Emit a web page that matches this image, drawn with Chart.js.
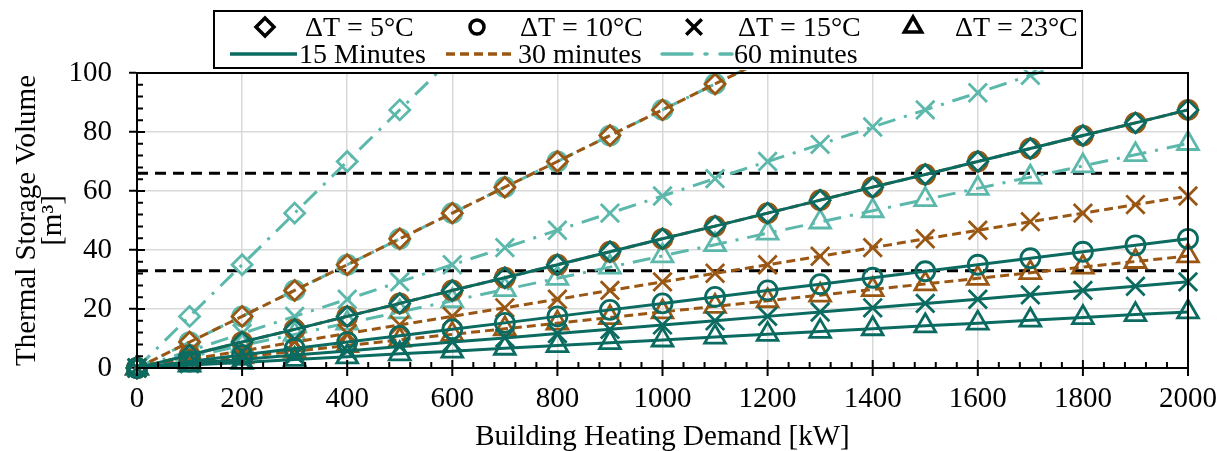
<!DOCTYPE html>
<html>
<head>
<meta charset="utf-8">
<script src="https://cdn.jsdelivr.net/npm/chart.js@4.4.1/dist/chart.umd.min.js"></script>
<style>
  html, body { margin: 0; padding: 0; background: #fff; }
  #wrap { width: 1225px; height: 451px; }
</style>
</head>
<body>
<div id="wrap"><canvas id="storage" width="1225" height="451"></canvas></div>
<script>
// building heating demand [kW]
var demand = [0, 100, 200, 300, 400, 500, 600, 700, 800, 900, 1000, 1100, 1200, 1300, 1400, 1500, 1600, 1700, 1800, 1900, 2000];

// storage volume [m3], 15 minutes
var v15_dT5  = [0, 4.4, 8.8, 13.1, 17.5, 21.9, 26.3, 30.6, 35.0, 39.4, 43.8, 48.1, 52.5, 56.9, 61.3, 65.6, 70.0, 74.4, 78.8, 83.1, 87.5];
var v15_dT10 = [0, 2.2, 4.4, 6.6, 8.8, 10.9, 13.1, 15.3, 17.5, 19.7, 21.9, 24.1, 26.3, 28.4, 30.6, 32.8, 35.0, 37.2, 39.4, 41.6, 43.8];
var v15_dT15 = [0, 1.5, 2.9, 4.4, 5.8, 7.3, 8.8, 10.2, 11.7, 13.1, 14.6, 16.0, 17.5, 19.0, 20.4, 21.9, 23.3, 24.8, 26.3, 27.7, 29.2];
var v15_dT23 = [0, 1.0, 1.9, 2.9, 3.8, 4.8, 5.7, 6.7, 7.6, 8.6, 9.5, 10.5, 11.4, 12.4, 13.3, 14.3, 15.2, 16.2, 17.1, 18.1, 19.0];

// 30 minutes
var v30_dT5  = [0, 8.8, 17.5, 26.3, 35.0, 43.8, 52.5, 61.3, 70.0, 78.8, 87.5, 96.3, 105.0, 113.8, 122.5, 131.3, 140.0, 148.8, 157.5, 166.3, 175.0];
var v30_dT10 = [0, 4.4, 8.8, 13.1, 17.5, 21.9, 26.3, 30.6, 35.0, 39.4, 43.8, 48.1, 52.5, 56.9, 61.3, 65.6, 70.0, 74.4, 78.8, 83.1, 87.5];
var v30_dT15 = [0, 2.9, 5.8, 8.8, 11.7, 14.6, 17.5, 20.4, 23.3, 26.3, 29.2, 32.1, 35.0, 37.9, 40.8, 43.8, 46.7, 49.6, 52.5, 55.4, 58.3];
var v30_dT23 = [0, 1.9, 3.8, 5.7, 7.6, 9.5, 11.4, 13.3, 15.2, 17.1, 19.0, 20.9, 22.8, 24.7, 26.6, 28.5, 30.4, 32.3, 34.2, 36.1, 38.0];

// 60 minutes
var v60_dT5  = [0, 17.5, 35.0, 52.5, 70.0, 87.5, 105.0, 122.5, 140.0, 157.5, 175.0, 192.5, 210.0, 227.5, 245.0, 262.5, 280.0, 297.5, 315.0, 332.5, 350.0];
var v60_dT10 = [0, 8.8, 17.5, 26.3, 35.0, 43.8, 52.5, 61.3, 70.0, 78.8, 87.5, 96.3, 105.0, 113.8, 122.5, 131.3, 140.0, 148.8, 157.5, 166.3, 175.0];
var v60_dT15 = [0, 5.8, 11.7, 17.5, 23.3, 29.2, 35.0, 40.8, 46.7, 52.5, 58.3, 64.2, 70.0, 75.8, 81.7, 87.5, 93.3, 99.2, 105.0, 110.8, 116.7];
var v60_dT23 = [0, 3.8, 7.6, 11.4, 15.2, 19.0, 22.8, 26.6, 30.4, 34.2, 38.0, 41.8, 45.7, 49.5, 53.3, 57.1, 60.9, 64.7, 68.5, 72.3, 76.1];

// horizontal reference levels [m3]
var refLevels = [66, 33];

var dTLabels  = ["ΔT = 5°C", "ΔT = 10°C", "ΔT = 15°C", "ΔT = 23°C"];
var durLabels = ["15 Minutes", "30 minutes", "60 minutes"];

var markers = ["rectRot", "circle", "crossRot", "triangle"];
var markerSize = [10, 9.5, 13, 12];
var durColors = ["#0B6B61", "#9A5714", "#5DB8AC"];
var durDash = [[], [9, 5], [18, 9, 3, 9]];

var series = [
  [v15_dT5, v15_dT10, v15_dT15, v15_dT23],
  [v30_dT5, v30_dT10, v30_dT15, v30_dT23],
  [v60_dT5, v60_dT10, v60_dT15, v60_dT23]
];

function pts(vals) {
  return vals.map(function (v, i) { return {x: demand[i], y: v}; });
}

var datasets = [];
for (var d = 0; d < 3; d++) {
  for (var k = 0; k < 4; k++) {
    datasets.push({
      label: durLabels[d] + " " + dTLabels[k],
      data: pts(series[d][k]),
      borderColor: durColors[d],
      borderWidth: 3,
      borderDash: durDash[d],
      pointStyle: markers[k],
      pointRadius: markerSize[k],
      pointBorderWidth: 2.8,
      pointBorderColor: durColors[d],
      pointBackgroundColor: "rgba(0,0,0,0)",
      fill: false,
      tension: 0,
      clip: {left: 20, bottom: 20, right: 20, top: 3}
    });
  }
}
refLevels.forEach(function (lvl) {
  datasets.push({
    label: "ref " + lvl,
    data: [{x: demand[0], y: lvl}, {x: demand[demand.length - 1], y: lvl}],
    borderColor: "#000",
    borderWidth: 3,
    borderDash: [11, 7],
    pointRadius: 0,
    fill: false
  });
});

var serif = '"Liberation Serif", "Times New Roman", serif';

// ticks on the x axis, minor ticks, frame and the two-row legend
var extras = {
  id: "extras",
  afterDraw: function (chart) {
    var ctx = chart.ctx, a = chart.chartArea;
    var xs = chart.scales.x, ys = chart.scales.y;
    ctx.save();
    ctx.strokeStyle = "#000";
    ctx.lineWidth = 2;
    ctx.beginPath();
    for (var v = 0; v <= 2000; v += 40) {
      var px = xs.getPixelForValue(v);
      if (v % 200 === 0) {
        ctx.moveTo(px, a.bottom + 8);
        ctx.lineTo(px, a.bottom - 8);
      } else {
        ctx.moveTo(px, a.bottom);
        ctx.lineTo(px, a.bottom - 6);
      }
    }
    for (var w = 0; w <= 100; w += 4) {
      var py = ys.getPixelForValue(w);
      var len2 = w % 20 === 0 ? 8 : 6;
      ctx.moveTo(a.left, py);
      ctx.lineTo(a.left + len2, py);
    }
    ctx.stroke();
    ctx.strokeRect(a.left, a.top, a.right - a.left, a.bottom - a.top);

    // legend box
    ctx.fillStyle = "#fff";
    ctx.fillRect(214, 11, 868, 57);
    ctx.lineWidth = 2;
    ctx.strokeRect(214, 11, 868, 57);

    ctx.font = "28px " + serif;
    ctx.textBaseline = "alphabetic";
    ctx.textAlign = "left";

    var mx = [265, 477, 694, 913];
    var tx = [305, 520, 738, 955];
    var legSize = [9, 7, 11, 10];
    for (var i = 0; i < 4; i++) {
      ctx.strokeStyle = "#000";
      ctx.fillStyle = "rgba(0,0,0,0)";
      ctx.lineWidth = 3.5;
      ctx.setLineDash([]);
      Chart.helpers.drawPoint(ctx, {pointStyle: markers[i], radius: legSize[i], borderWidth: 3.5, rotation: 0}, mx[i], 27);
      ctx.fillStyle = "#000";
      ctx.fillText(dTLabels[i], tx[i], 36);
    }

    var lx0 = [230, 446, 662];
    var lx1 = [297, 514, 732];
    var ltx = [299, 518, 734];
    var legDash = [[], [9, 5], [30, 13, 2, 13]];
    for (var j = 0; j < 3; j++) {
      ctx.strokeStyle = durColors[j];
      ctx.lineWidth = 3.5;
      ctx.lineCap = j === 2 ? "round" : "butt";
      ctx.setLineDash(legDash[j]);
      ctx.beginPath();
      ctx.moveTo(lx0[j], 54);
      ctx.lineTo(lx1[j], 54);
      ctx.stroke();
      ctx.setLineDash([]);
      ctx.fillStyle = "#000";
      ctx.fillText(durLabels[j], ltx[j], 63);
    }
    ctx.restore();
  }
};

new Chart("storage", {
  type: "line",
  data: { datasets: datasets },
  options: {
    responsive: false,
    animation: false,
    layout: { padding: { top: 73, right: 37, bottom: 0, left: 0 } },
    plugins: {
      legend: { display: false },
      tooltip: { enabled: false }
    },
    scales: {
      x: {
        type: "linear",
        min: 0,
        max: 2000,
        ticks: {
          stepSize: 200, color: "#000", padding: 6, maxRotation: 0,
          font: { family: serif, size: 29, lineHeight: 1.2 },
          callback: function (value) { return String(value); }
        },
        grid: { color: "#d9d9d9", lineWidth: 1.5, tickColor: "rgba(0,0,0,0)", tickLength: 8 },
        border: { color: "#000", width: 2 },
        title: { display: true, text: "Building Heating Demand [kW]", color: "#000", font: { family: serif, size: 29, lineHeight: 1.2 }, padding: { top: 0, bottom: -4 } },
        afterFit: function (scale) { scale.height = 83; }
      },
      y: {
        min: 0,
        max: 100,
        ticks: { stepSize: 20, color: "#000", padding: 17, font: { family: serif, size: 29, lineHeight: 1.2 } },
        grid: { color: "#d9d9d9", lineWidth: 1.5, tickColor: "#000", tickLength: 8, tickWidth: 2 },
        border: { color: "#000", width: 2 },
        title: { display: true, text: ["Thermal Storage Volume", "[m³]"], color: "#000", font: { family: serif, size: 29, lineHeight: 0.9 }, padding: { top: 14, bottom: 0 } },
        afterFit: function (scale) { scale.width = 137; }
      }
    }
  },
  plugins: [extras]
});
</script>
</body>
</html>
